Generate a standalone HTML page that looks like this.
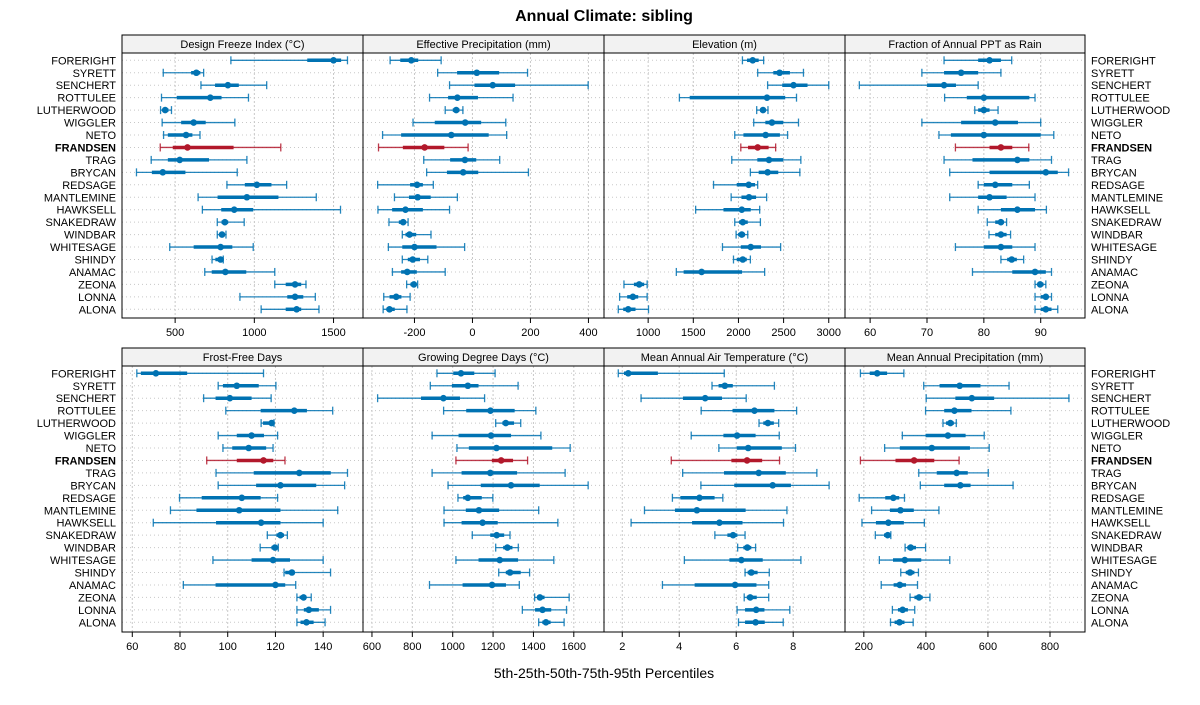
<!DOCTYPE html>
<html><head><meta charset="utf-8"><style>
body{margin:0;background:#fff;font-family:"Liberation Sans",Arial,sans-serif}
svg text{font-family:"Liberation Sans",Arial,sans-serif}
</style></head><body>
<svg id="chart" width="1200" height="700" viewBox="0 0 1200 700" xmlns="http://www.w3.org/2000/svg">
<text x="604" y="21" text-anchor="middle" font-size="16" font-weight="bold">Annual Climate: sibling</text>
<text x="604" y="678" text-anchor="middle" font-size="14">5th-25th-50th-75th-95th Percentiles</text>
</svg>
<script>
const sites = ["FORERIGHT","SYRETT","SENCHERT","ROTTULEE","LUTHERWOOD","WIGGLER","NETO","FRANDSEN","TRAG","BRYCAN","REDSAGE","MANTLEMINE","HAWKSELL","SNAKEDRAW","WINDBAR","WHITESAGE","SHINDY","ANAMAC","ZEONA","LONNA","ALONA"];
const highlight = "FRANDSEN";
const panelTitles = ["Design Freeze Index (°C)","Effective Precipitation (mm)","Elevation (m)","Fraction of Annual PPT as Rain","Frost-Free Days","Growing Degree Days (°C)","Mean Annual Air Temperature (°C)","Mean Annual Precipitation (mm)"];
const domains = [[164.6,1686],[-377.5,453.7],[511,3180],[55.58,97.79],[55.69,156.7],[555.6,1749.6],[1.359,9.818],[139.3,912.8]];
const ticks = [[500,1000,1500],[-200,0,200,400],[1000,1500,2000,2500,3000],[60,70,80,90],[60,80,100,120,140],[600,800,1000,1200,1400,1600],[2,4,6,8],[200,400,600,800]];
const designFreeze = [[852,1334,1500,1548,1588],[425,601,634,659,680],[663,752,833,902,1078],[414,510,722,793,963],[408,420,437,458,477],[418,538,617,693,877],[427,454,569,609,657],[406,485,578,869,1167],[349,454,529,714,953],[256,353,422,565,892],[827,940,1016,1108,1204],[645,768,953,1152,1391],[672,791,873,993,1544],[766,793,814,835,936],[766,779,796,810,821],[466,617,787,861,993],[733,754,787,798,804],[687,731,817,949,1129],[1129,1198,1257,1296,1326],[909,1208,1257,1309,1385],[1043,1198,1267,1296,1408]];
const effPrecip = [[-284,-249,-211,-187,-108],[-120,-53,15,92,190],[-79,7,70,147,399],[-148,-84,-52,19,140],[-94,-68,-56,-45,-33],[-205,-130,-25,30,115],[-310,-246,-73,56,118],[-324,-240,-165,-97,-15],[-168,-77,-26,13,94],[-158,-88,-32,20,193],[-327,-215,-191,-171,-135],[-269,-219,-189,-144,-52],[-326,-277,-231,-171,-79],[-288,-254,-239,-229,-222],[-242,-231,-217,-194,-143],[-290,-242,-200,-124,-27],[-242,-223,-206,-181,-154],[-276,-246,-225,-192,-94],[-227,-214,-202,-194,-189],[-306,-286,-263,-245,-215],[-308,-297,-286,-268,-226]];
const elevation = [[2044,2095,2158,2224,2279],[2213,2386,2456,2570,2720],[2323,2485,2610,2765,3000],[1346,1460,2316,2518,2643],[2202,2239,2272,2301,2327],[2169,2298,2371,2496,2665],[1959,2055,2301,2459,2544],[2026,2106,2213,2334,2412],[1926,2209,2338,2496,2691],[2132,2224,2323,2441,2680],[1724,1981,2114,2184,2213],[1919,2033,2117,2195,2312],[1526,1834,2037,2136,2235],[1959,2007,2048,2103,2243],[1974,1996,2037,2073,2103],[1823,2026,2136,2250,2467],[1945,1981,2048,2092,2132],[1312,1393,1592,2040,2290],[732,842,901,956,989],[684,768,831,890,989],[669,724,779,860,1004]];
const fracRain = [[73.0,79.0,81.0,83.0,84.9],[69.1,73.0,76.0,79.0,83.0],[58.1,70.0,73.0,75.1,79.0],[73.1,77.0,80.0,88.0,89.0],[78.4,79.0,80.0,81.0,82.5],[69.1,76.0,82.0,86.0,90.0],[72.1,74.2,80.0,90.0,92.3],[75.0,81.0,83.0,85.0,87.9],[73.0,78.0,85.9,88.0,91.9],[74.0,81.0,90.9,93.0,94.9],[79.0,80.0,82.0,85.0,88.0],[74.0,79.0,81.0,84.0,89.0],[79.0,83.0,85.9,89.0,91.0],[80.6,82.0,83.0,83.5,84.0],[80.9,82.0,83.0,84.0,84.7],[75.0,80.0,83.0,85.0,89.0],[83.0,84.1,84.9,85.8,87.0],[78.0,85.0,89.0,90.9,91.9],[89.0,89.6,89.9,90.5,90.9],[89.0,90.0,90.9,91.3,91.9],[89.0,90.0,90.9,91.9,93.0]];
const frostFree = [[61.9,63.6,69.9,83.0,115.0],[96.0,98.0,103.8,113.0,120.2],[89.9,94.9,100.9,110.0,118.2],[99.2,113.8,127.9,133.2,144.0],[114.0,114.8,118.4,119.0,119.4],[96.0,103.8,110.0,115.2,120.9],[98.0,101.9,108.8,116.1,119.0],[91.2,103.8,115.0,119.1,124.0],[95.1,110.9,130.0,143.2,150.2],[96.0,111.9,122.1,137.1,149.0],[79.8,89.1,105.9,113.8,120.9],[76.0,86.9,104.8,122.1,146.1],[68.8,95.1,114.0,122.1,140.0],[116.6,120.4,122.1,123.6,125.0],[113.6,118.3,119.8,120.5,121.2],[93.8,110.0,119.0,126.1,140.0],[123.6,124.1,126.9,128.0,143.1],[81.4,94.9,120.0,124.1,128.5],[129.0,130.1,131.8,132.9,135.0],[129.0,131.9,134.0,138.2,143.1],[129.0,130.5,133.0,136.0,140.8]];
const gdd = [[922,1003,1041,1107,1210],[889,996,1075,1128,1324],[628,843,954,1036,1158],[955,1067,1187,1307,1412],[1213,1246,1263,1304,1337],[898,1029,1190,1289,1437],[1021,1080,1217,1493,1582],[1016,1194,1240,1299,1371],[898,1044,1186,1319,1557],[977,1139,1289,1431,1671],[1026,1052,1075,1144,1199],[957,1065,1130,1230,1426],[957,1044,1148,1223,1521],[1097,1186,1218,1255,1284],[1213,1250,1271,1296,1325],[1016,1128,1233,1324,1501],[1228,1263,1284,1337,1381],[885,1049,1195,1264,1330],[1406,1419,1432,1455,1577],[1345,1408,1445,1488,1564],[1426,1444,1462,1485,1552]];
const maat = [[1.86,2.06,2.21,3.25,5.58],[5.15,5.38,5.60,5.88,7.34],[2.66,4.13,4.91,5.50,6.35],[4.77,5.87,6.64,7.34,8.12],[6.80,6.95,7.11,7.32,7.49],[4.42,5.55,6.03,6.68,7.51],[5.39,6.02,6.42,7.60,8.08],[3.72,5.83,6.38,6.91,7.52],[4.12,5.57,6.79,7.74,8.83],[4.76,5.93,7.28,7.92,9.26],[3.76,4.04,4.71,5.24,5.53],[2.78,3.85,4.62,6.33,7.78],[2.31,4.45,5.41,6.22,7.66],[5.25,5.69,5.89,6.04,6.31],[6.05,6.25,6.39,6.53,6.68],[4.18,5.76,6.18,6.93,8.27],[6.31,6.40,6.53,6.75,7.16],[3.41,4.54,5.96,6.71,7.14],[6.28,6.37,6.49,6.72,7.14],[6.03,6.31,6.70,6.99,7.88],[6.08,6.31,6.68,7.00,7.65]];
const map = [[189,219,243,275,329],[393,444,509,576,668],[401,495,548,620,861],[399,459,492,547,674],[455,465,479,490,498],[324,399,471,528,588],[267,316,419,542,604],[189,302,362,427,507],[377,435,499,535,601],[382,459,511,544,681],[185,269,295,314,331],[225,284,318,361,442],[194,239,279,329,395],[237,265,277,283,287],[333,340,351,368,399],[250,294,332,385,477],[319,335,349,363,376],[256,296,316,336,373],[349,363,378,390,413],[292,310,325,342,364],[286,299,315,331,359]];
const panelData = [designFreeze,effPrecip,elevation,fracRain,frostFree,gdd,maat,map];

const NS="http://www.w3.org/2000/svg";
const svg=document.getElementById('chart');
function mk(tag,attrs,parent){const e=document.createElementNS(NS,tag);for(const k in attrs)e.setAttribute(k,attrs[k]);(parent||svg).appendChild(e);return e;}
const colX=[122,363,604,845,1085];
const rowTop=[53,366], rowBottom=[318,632], stripTop=[35,348];
const BLUE="#0072b2", RED="#b2182b";

for(let r=0;r<2;r++){
  // site labels
  sites.forEach((s,i)=>{
    const y=rowTop[r]+7.3+i*12.45;
    const tl=mk('text',{x:116,y:y+4,'text-anchor':'end','font-size':11,'font-weight':s===highlight?'bold':'normal'});
    
    
    tl.textContent=s;
    const tr=mk('text',{x:1091,y:y+4,'text-anchor':'start','font-size':11,'font-weight':s===highlight?'bold':'normal'});
    
    
    tr.textContent=s;
  });
}

for(let p=0;p<8;p++){
  const r=Math.floor(p/4), c=p%4;
  const x0=colX[c], x1=colX[c+1], yt=rowTop[r], yb=rowBottom[r];
  const g=mk('g',{});
  
  
  const d=domains[p];
  const sx=v=>x0+(v-d[0])/(d[1]-d[0])*(x1-x0);
  const sy=i=>yt+7.3+i*12.45;
  // strip
  const st=mk('rect',{x:x0,y:stripTop[r],width:x1-x0,height:yt-stripTop[r],fill:'#f2f2f2',stroke:'#000','stroke-width':1},g);
  
  
  const tt=mk('text',{x:(x0+x1)/2,y:stripTop[r]+13,'text-anchor':'middle','font-size':11},g);
  
  
  tt.textContent=panelTitles[p];
  // gridlines
  sites.forEach((s,i)=>{
    const gl=mk('line',{x1:x0,x2:x1,y1:sy(i),y2:sy(i),stroke:'#c8c8c8','stroke-width':1,'stroke-dasharray':'1,3'},g);
    
    
  });
  ticks[p].forEach(t=>{
    const X=sx(t);
    const vl=mk('line',{x1:X,x2:X,y1:yt,y2:yb,stroke:'#c8c8c8','stroke-width':1,'stroke-dasharray':'2,2'},g);
    
    
    const tk=mk('line',{x1:X,x2:X,y1:yb,y2:yb+5,stroke:'#000','stroke-width':1},g);
    
    
    const tl=mk('text',{x:X,y:yb+18,'text-anchor':'middle','font-size':11},g);
    
    
    tl.textContent=t;
  });
  // marks
  panelData[p].forEach((row,i)=>{
    const col=sites[i]===highlight?RED:BLUE;
    const y=sy(i);
    const whisk=mk('line',{x1:sx(row[0]),x2:sx(row[4]),y1:y,y2:y,stroke:col,'stroke-width':1.3,'stroke-opacity':0.85},g);
    
    
    [row[0],row[4]].forEach(v=>{
      const cap=mk('line',{x1:sx(v),x2:sx(v),y1:y-4,y2:y+4,stroke:col,'stroke-width':1.3,'stroke-opacity':0.85},g);
      
      
    });
    const box=mk('line',{x1:sx(row[1]),x2:sx(row[3]),y1:y,y2:y,stroke:col,'stroke-width':3.5},g);
    
    
    const dot=mk('circle',{cx:sx(row[2]),cy:y,r:3.3,fill:col},g);
    
    
  });
  const fr=mk('rect',{x:x0,y:yt,width:x1-x0,height:yb-yt,fill:'none',stroke:'#000','stroke-width':1},g);
  
  
}
</script>
</body></html>
